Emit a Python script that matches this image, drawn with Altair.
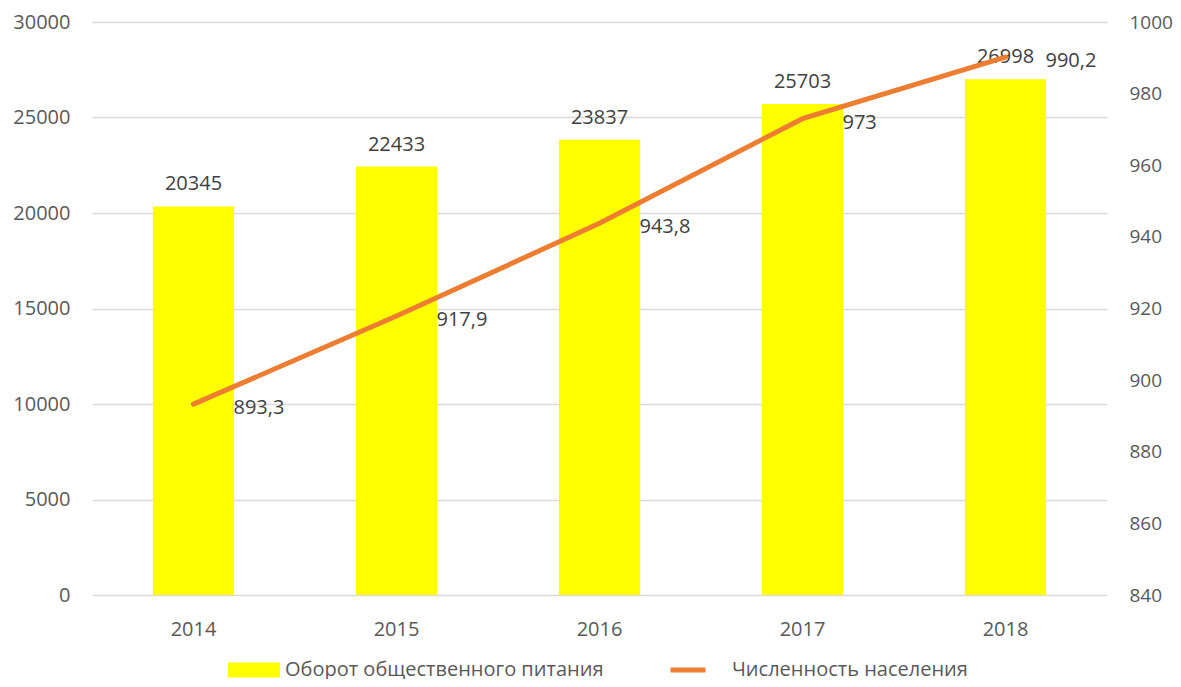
import altair as alt
import pandas as pd

years = ["2014", "2015", "2016", "2017", "2018"]
turnover = [20345, 22433, 23837, 25703, 26998]
population = [893.3, 917.9, 943.8, 973, 990.2]

bar_name = "Оборот общественного питания"
line_name = "Численность населения"

df = pd.DataFrame({"year": years, "turnover": turnover, "population": population,
                   "bar_series": bar_name, "line_series": line_name})

FONT = "Open Sans"
AX_COL = "#595959"
LBL_COL = "#404040"

x = alt.X("year:N", title=None,
          scale=alt.Scale(paddingInner=0.6, paddingOuter=0.3),
          axis=alt.Axis(labelAngle=0, ticks=False, domain=False, grid=False,
                        labelPadding=24, labelFontSize=20, labelColor=AX_COL, labelFont=FONT))

yl_axis = alt.Axis(values=[0, 5000, 10000, 15000, 20000, 25000, 30000],
                   ticks=False, domain=False, grid=True, gridColor="#D9D9D9",
                   gridWidth=1.5, labelPadding=22, labelFontSize=20,
                   labelColor=AX_COL, labelFont=FONT, format="d", orient="left")
yl_scale = alt.Scale(domain=[0, 30000])

bars = alt.Chart(df).mark_bar(color="#FFFF00").encode(
    x=x,
    y=alt.Y("turnover:Q", title=None, scale=yl_scale, axis=yl_axis),
    fill=alt.Fill("bar_series:N", title=None,
                  scale=alt.Scale(domain=[bar_name], range=["#FFFF00"]),
                  legend=alt.Legend(orient="none", legendX=136, legendY=622,
                                    symbolType="M-1,-0.29L1,-0.29L1,0.29L-1,0.29Z",
                                    symbolSize=2704, symbolStrokeWidth=0,
                                    labelFontSize=20, labelColor=AX_COL, labelFont=FONT,
                                    labelOffset=5, labelLimit=600)),
)

bar_labels = alt.Chart(df).mark_text(baseline="alphabetic", dy=-16, fontSize=20,
                                     color=LBL_COL, font=FONT).encode(
    x=x,
    y=alt.Y("turnover:Q", title=None, scale=yl_scale, axis=yl_axis),
    text=alt.Text("turnover:Q", format="d"),
)

left = alt.layer(bars, bar_labels)

yr_axis = alt.Axis(orient="right", values=[840, 860, 880, 900, 920, 940, 960, 980, 1000],
                   ticks=False, domain=False, grid=False, labelPadding=22,
                   labelFontSize=19, labelColor=AX_COL, labelFont=FONT, format="d")
yr_scale = alt.Scale(domain=[840, 1000])

line = alt.Chart(df).mark_line(strokeWidth=5, strokeCap="round").encode(
    x=x,
    y=alt.Y("population:Q", title=None, scale=yr_scale, axis=yr_axis),
    stroke=alt.Stroke("line_series:N", title=None,
                      scale=alt.Scale(domain=[line_name], range=["#ED7D31"]),
                      legend=alt.Legend(orient="none", legendX=576, legendY=628,
                                        symbolType="stroke", symbolSize=1225,
                                        symbolStrokeWidth=5,
                                        labelFontSize=20, labelColor=AX_COL, labelFont=FONT,
                                        labelOffset=24, labelLimit=600)),
)

line_labels = alt.Chart(df).transform_calculate(
    lbl="replace(toString(datum.population), '.', ',')"
).mark_text(align="left", baseline="middle", dx=40, dy=4, fontSize=20,
            color=LBL_COL, font=FONT).encode(
    x=x,
    y=alt.Y("population:Q", title=None, scale=yr_scale, axis=yr_axis),
    text="lbl:N",
)

right = alt.layer(line, line_labels)

chart = alt.layer(left, right).resolve_scale(y="independent").properties(
    width=1015, height=573,
    autosize=alt.AutoSizeParams(type="none"),
    padding={"left": 84, "top": 14, "right": 66, "bottom": 84},
    background="white",
).configure_view(stroke=None)

chart.save("out.html", embed_options={"renderer": "svg", "actions": False})
